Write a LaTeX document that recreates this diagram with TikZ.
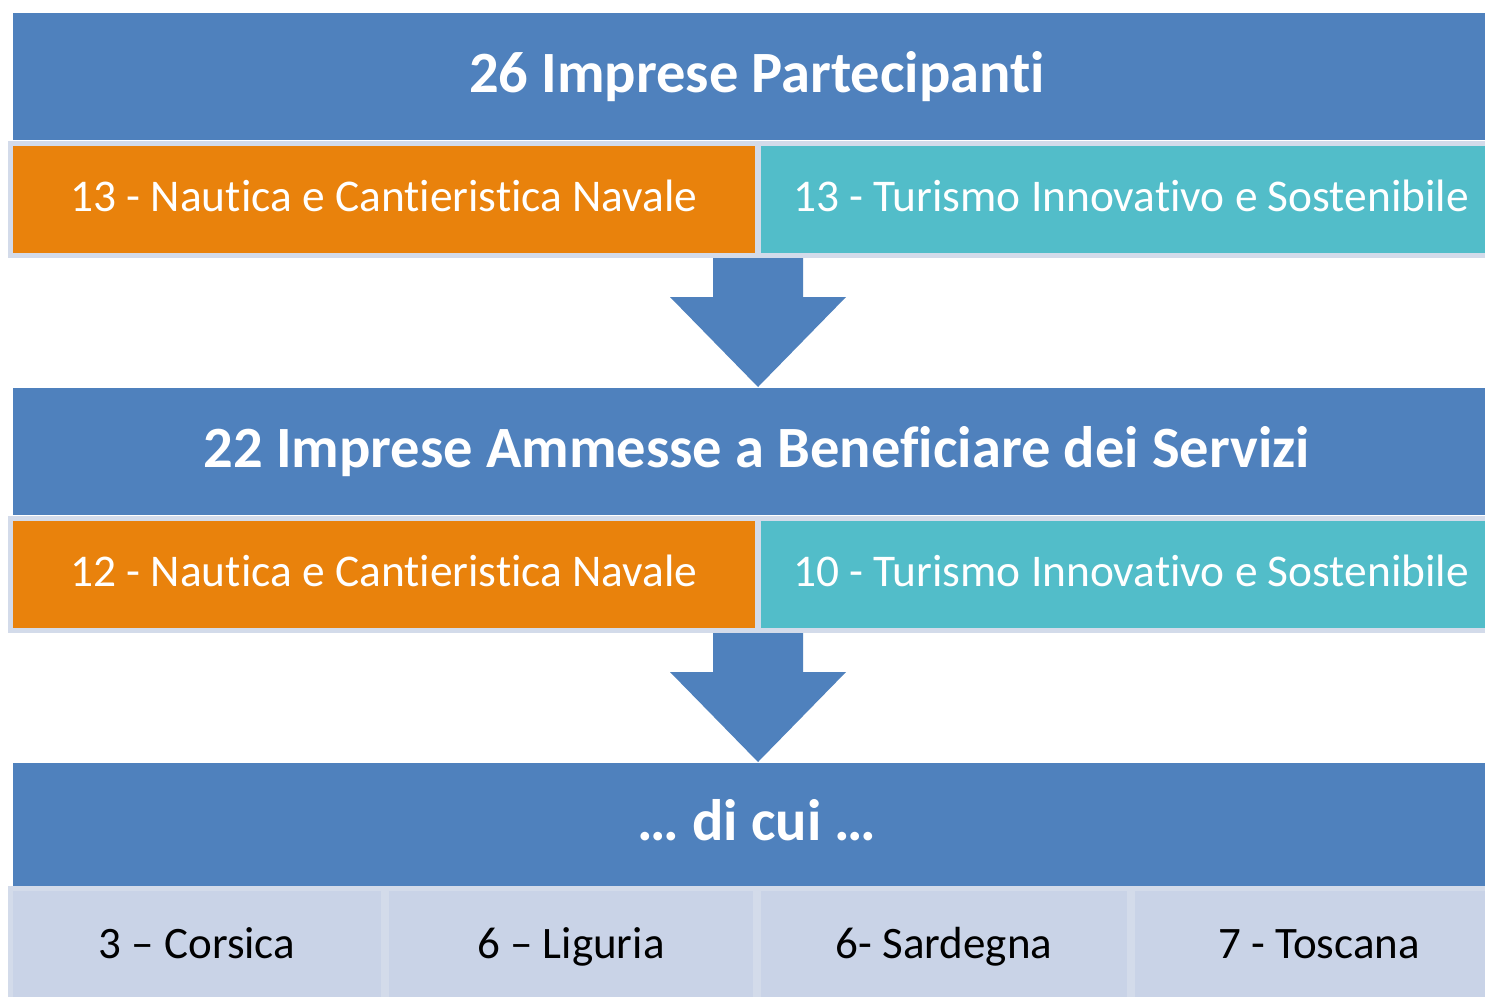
\documentclass[tikz,border=0pt]{standalone}
\usepackage{fontspec}
\setmainfont[Ligatures={NoCommon}]{Carlito}
\definecolor{bandblue}{HTML}{4F81BD}
\definecolor{orangecell}{HTML}{E9820C}
\definecolor{tealcell}{HTML}{52BDC9}
\definecolor{frameblue}{HTML}{D3DBEA}
\definecolor{lightcell}{HTML}{C9D3E7}
\tikzset{
  band/.style={rectangle, fill=bandblue, draw=none, inner sep=0pt, text=white,
    font=\fontsize{58.5}{66}\selectfont\bfseries, text height=40pt, text depth=9pt},
  frame/.style={rectangle, fill=frameblue, draw=none, inner sep=0pt},
  rowtext/.style={font=\fontsize{45.4}{52}\selectfont, text height=30pt, text depth=6pt},
  orangebox/.style={rectangle, fill=orangecell, draw=none, inner sep=0pt, text=white, rowtext},
  tealbox/.style={rectangle, fill=tealcell, draw=none, inner sep=0pt, text=white, rowtext},
  regionbox/.style={rectangle, fill=lightcell, draw=none, inner sep=0pt, text=black,
    font=\fontsize{45}{52}\selectfont, text height=30pt, text depth=6pt},
  blockarrow/.style={fill=bandblue, draw=none}
}
\begin{document}
\begin{tikzpicture}[x=1pt,y=-1pt]
\useasboundingbox (0,0) rectangle (1485,996);
\fill[white] (0,0) rectangle (1485,996);
% first level
\node[band, minimum width=1488, minimum height=127] (t1) at (757,76.5) {26 Imprese Partecipanti};
\node[frame, minimum width=1493, minimum height=117] (f1) at (754.5,199.5) {};
\node[orangebox, minimum width=742, minimum height=107] (o1) at (384,199.5) {13 - Nautica e Cantieristica Navale};
\node[tealbox, minimum width=740, minimum height=107] (c1) at (1131,199.5) {13 - Turismo Innovativo e Sostenibile};
% arrow 1
\coordinate (a1) at (758,258);
\coordinate (b1) at (758,387);
\fill[blockarrow] ([xshift=-45pt]a1) -- ([xshift=45pt]a1) -- ([xshift=45pt,yshift=-39pt]a1)
  -- ([xshift=88pt,yshift=-39pt]a1) -- (b1) -- ([xshift=-88pt,yshift=-39pt]a1)
  -- ([xshift=-45pt,yshift=-39pt]a1) -- cycle;
% second level
\node[band, minimum width=1488, minimum height=127] (t2) at (757,451.5) {22 Imprese Ammesse a Beneficiare dei Servizi};
\node[frame, minimum width=1493, minimum height=117] (f2) at (754.5,574.5) {};
\node[orangebox, minimum width=742, minimum height=107] (o2) at (384,574.5) {12 - Nautica e Cantieristica Navale};
\node[tealbox, minimum width=740, minimum height=107] (c2) at (1131,574.5) {10 - Turismo Innovativo e Sostenibile};
% arrow 2
\coordinate (a2) at (758,633);
\coordinate (b2) at (758,762);
\fill[blockarrow] ([xshift=-45pt]a2) -- ([xshift=45pt]a2) -- ([xshift=45pt,yshift=-39pt]a2)
  -- ([xshift=88pt,yshift=-39pt]a2) -- (b2) -- ([xshift=-88pt,yshift=-39pt]a2)
  -- ([xshift=-45pt,yshift=-39pt]a2) -- cycle;
% third level
\node[band, minimum width=1488, minimum height=123] (t3) at (757,824.5) {… di cui …};
\node[frame, minimum width=1495, minimum height=114] (f3) at (755.5,943) {};
\node[regionbox, minimum width=368, minimum height=110] (r1) at (197,946) {3 – Corsica};
\node[regionbox, minimum width=364, minimum height=110] (r2) at (571,946) {6 – Liguria};
\node[regionbox, minimum width=366, minimum height=110] (r3) at (944,946) {6- Sardegna};
\node[regionbox, minimum width=368, minimum height=110] (r4) at (1319,946) {7 - Toscana};
\end{tikzpicture}
\end{document}
